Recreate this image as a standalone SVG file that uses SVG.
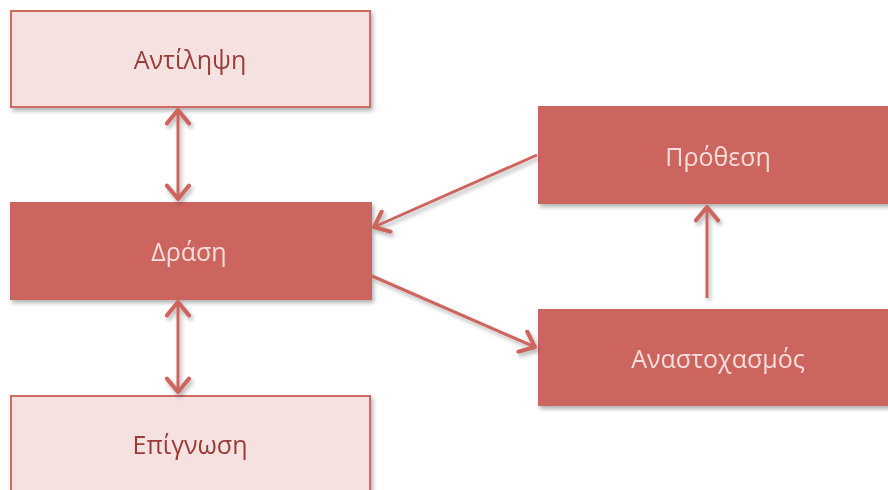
<svg xmlns="http://www.w3.org/2000/svg" width="888" height="490" viewBox="0 0 888 490">
<style>
.light{fill:#f4e1e0;stroke:#cf6b64;stroke-width:2}
.dark{fill:#cd655f;stroke:none}
text{font-family:"Open Sans","Noto Sans","DejaVu Sans",sans-serif;font-size:25px;text-anchor:middle;dominant-baseline:central}
.lt{fill:#9a3a36}
.dt{fill:#f6dedc}
.conn line{stroke:#cd655f;stroke-width:3;fill:none}
</style>
<defs>
<filter id="sh" x="-10%" y="-10%" width="120%" height="130%">
<feDropShadow dx="2" dy="3" stdDeviation="2" flood-color="#000" flood-opacity="0.3"/>
</filter>
<marker id="ah" viewBox="0 0 12 12" refX="10.3" refY="6" markerWidth="8.5" markerHeight="8.5" orient="auto-start-reverse" markerUnits="strokeWidth">
<path d="M4,0.8 L10.3,6 L4,11.2" fill="none" stroke="#cd655f" stroke-width="1.9" stroke-linecap="round" stroke-linejoin="round"/>
</marker>
</defs>
<g id="n-antilipsi" filter="url(#sh)">
<rect class="light" x="11" y="11" width="359" height="96"/>
<text class="lt" x="190" y="59">Αντίληψη</text>
</g>
<g id="n-drasi" filter="url(#sh)">
<rect class="dark" x="10" y="202" width="362" height="98"/>
<text class="dt" x="189" y="251">Δράση</text>
</g>
<g id="n-epignosi" filter="url(#sh)">
<rect class="light" x="11" y="396" width="359" height="100"/>
<text class="lt" x="190" y="444">Επίγνωση</text>
</g>
<g id="n-prothesi" filter="url(#sh)">
<rect class="dark" x="538" y="106" width="355" height="98"/>
<text class="dt" x="718" y="156">Πρόθεση</text>
</g>
<g id="n-anastochasmos" filter="url(#sh)">
<rect class="dark" x="538" y="309" width="355" height="97"/>
<text class="dt" x="718" y="358">Αναστοχασμός</text>
</g>
<g class="conn" filter="url(#sh)">
<line x1="178" y1="110" x2="178" y2="199" marker-start="url(#ah)" marker-end="url(#ah)"/>
<line x1="178" y1="302" x2="178" y2="392" marker-start="url(#ah)" marker-end="url(#ah)"/>
<line x1="537" y1="155" x2="374" y2="227" marker-end="url(#ah)"/>
<line x1="372" y1="276" x2="535" y2="347" marker-end="url(#ah)"/>
<line x1="707" y1="298" x2="707" y2="207" marker-end="url(#ah)"/>
</g>
</svg>
